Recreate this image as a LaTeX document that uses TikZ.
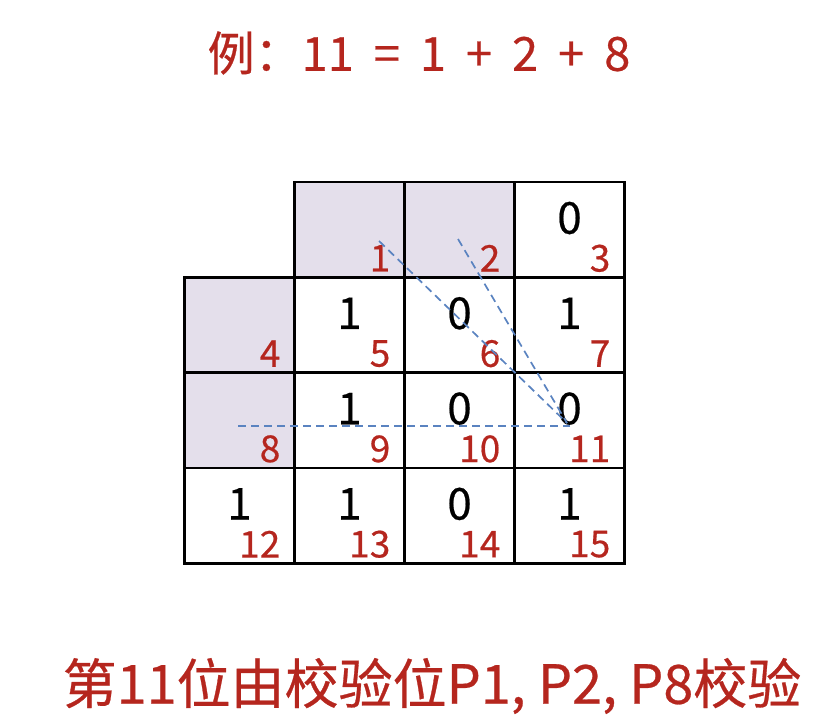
\documentclass[tikz,border=0pt]{standalone}
\usepackage{fontspec}
\setmainfont{Noto Sans CJK SC}[FakeBold=0.5]
\definecolor{hamred}{HTML}{B5261E}
\definecolor{parityfill}{HTML}{E4DFEB}
\definecolor{checkblue}{HTML}{5A83C0}
\newcommand{\gap}{\hspace{20pt}}
\tikzset{
  cellbox/.style={draw=black,line width=2.8pt},
  bitval/.style={font=\fontsize{44}{44}\selectfont,text=black},
  posnum/.style={font=\fontsize{37}{37}\selectfont,text=hamred,anchor=east,inner sep=0pt},
  checkline/.style={checkblue,line width=1.7pt,dash pattern=on 8pt off 5pt},
  headline/.style={font=\fontsize{47}{47}\selectfont,text=hamred}
}

\begin{document}
\begin{tikzpicture}[x=1pt,y=-1pt]
  \useasboundingbox (0,0) rectangle (828,728);
  \def\gx{184.5} \def\gy{182} \def\cw{110} \def\ch{95.3}
  % parity cells
  \foreach \c/\r in {1/0,2/0,0/1,0/2}
    \fill[parityfill] ({\gx+\c*\cw},{\gy+\r*\ch}) rectangle ++(\cw,\ch);
  % grid and position numbers
  \foreach \n in {1,...,15} {
    \pgfmathtruncatemacro\c{mod(\n,4)}
    \pgfmathtruncatemacro\r{\n/4}
    \draw[cellbox] ({\gx+\c*\cw},{\gy+\r*\ch}) rectangle ++(\cw,\ch);
    \node[posnum] (n\n) at ({\gx+(\c+1)*\cw-14},{\gy+(\r+1)*\ch-19}) {\n};
  }
  % data bits
  \foreach \n/\v in {3/0,5/1,6/0,7/1,9/1,10/0,11/0,12/1,13/1,14/0,15/1} {
    \pgfmathtruncatemacro\c{mod(\n,4)}
    \pgfmathtruncatemacro\r{\n/4}
    \node[bitval] (b\n) at ({\gx+(\c+0.5)*\cw},{\gy+\r*\ch+36}) {\v};
  }
  % check lines into bit 11
  \coordinate (p1) at (379,241);
  \coordinate (p2) at (458,239);
  \coordinate (p8) at (238,426);
  \coordinate (hit) at (567,423);
  \coordinate (hith) at (570,426);
  \draw[checkline] (p1) -- (hit);
  \draw[checkline] (p2) -- (hit);
  \draw[checkline] (p8) -- (hith);
  % texts
  \node[headline] (title) at (419,53) {例：11\gap=\gap1\gap+\gap2\gap+\gap8};
  \node[headline,font=\fontsize{54}{54}\selectfont] (caption) at (432,686) {第11位由校验位P1, P2, P8校验};
\end{tikzpicture}
\end{document}
